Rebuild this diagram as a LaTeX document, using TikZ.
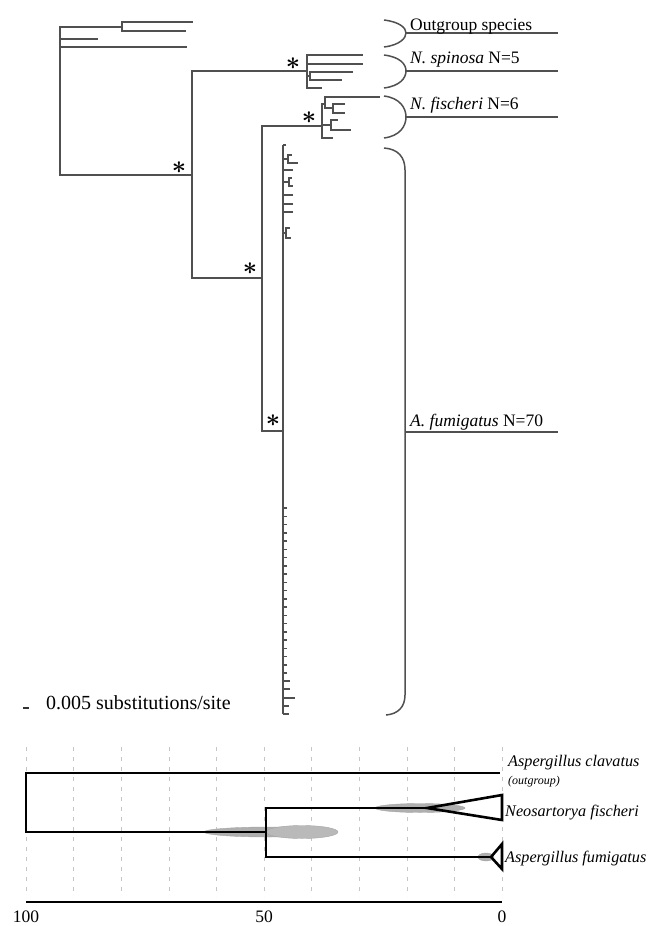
\documentclass[tikz,border=0pt]{standalone}
\usepackage{fontspec}
\setmainfont{Liberation Serif}
\usetikzlibrary{positioning,calc}
\definecolor{treegray}{RGB}{80,80,80}
\definecolor{hpdgray}{RGB}{175,175,175}

\begin{document}
\begin{tikzpicture}[x=1pt,y=-1pt, every node/.style={font=\fontsize{17.5}{19}\selectfont,inner sep=0pt}, br/.style={draw=treegray,line width=1.5pt}, brk/.style={draw=treegray,line width=1.5pt}, star/.style={font=\fontsize{36}{36}\selectfont\boldmath}, tl/.style={draw=black,line width=2.6pt,line join=miter}, grid/.style={draw=gray!45,line width=0.6pt,dash pattern=on 4pt off 6pt}, hpd/.style={fill=hpdgray,draw=gray!70,line width=0.4pt}, blab/.style={anchor=base west,font=\fontsize{16.2}{17}\selectfont\itshape}]
\useasboundingbox (0,0) rectangle (653,926);

% upper tree: internal nodes
\coordinate (r) at (60,101);
\coordinate (og) at (122,27);
\coordinate (n1) at (192,175);
\coordinate (sp) at (307,71);
\coordinate (sp2) at (310,76);
\coordinate (n2) at (262,278);
\coordinate (fi) at (322,126);
\coordinate (fa) at (325,104);
\coordinate (fb) at (333,108);
\coordinate (fc) at (331,125);
\coordinate (fu) at (283,431);
\coordinate (fut) at (283,145);
\coordinate (fub) at (283,714);
\coordinate (fA) at (288,159);
\coordinate (fB) at (289,182);
\coordinate (fC) at (286,233);

% outgroup
\coordinate (o1) at (193,22); \coordinate (o2) at (186,31);
\coordinate (o3) at (98,39); \coordinate (o4) at (187,47);
\draw[br] (r) |- (og); \draw[br] (og) |- (o1); \draw[br] (og) |- (o2);
\draw[br] (r) |- (o3); \draw[br] (r) |- (o4);
\draw[br] (r) |- (n1);
\draw[br] (n1) |- (sp); \draw[br] (n1) |- (n2);
\node[star] at (179,168) {$\ast$};
\node[star] at (293,64) {$\ast$};
\node[star] at (250,269) {$\ast$};

% N. spinosa
\foreach \y/\x [count=\i] in {55/363,64/363,88/322} {
  \coordinate (spt\i) at (\x,\y); \draw[br] (sp) |- (spt\i); }
\draw[br] (sp) |- (sp2);
\foreach \y/\x [count=\i] in {72/353,80/342} {
  \coordinate (sqt\i) at (\x,\y); \draw[br] (sp2) |- (sqt\i); }

% N. fischeri
\draw[br] (n2) |- (fi);
\node[star] at (309,118) {$\ast$};
\draw[br] (fi) |- (fa); \draw[br] (fa) |- (fb); \draw[br] (fi) |- (fc);
\coordinate (fat) at (380,97); \draw[br] (fa) |- (fat);
\foreach \y/\x [count=\i] in {104/345,113/345} {
  \coordinate (fbt\i) at (\x,\y); \draw[br] (fb) |- (fbt\i); }
\foreach \y/\x [count=\i] in {120/338,130/351} {
  \coordinate (fct\i) at (\x,\y); \draw[br] (fc) |- (fct\i); }
\coordinate (fit) at (333,138); \draw[br] (fi) |- (fit);

% A. fumigatus
\draw[br] (n2) |- (fu);
\node[star] at (273,421) {$\ast$};
\draw[br] (fut) -- (fub);
\foreach \y/\x [count=\i] in {145/286,170/293,195/293,204/293,212/293,681/290,689/290,698/295,706/289,714/289} {
  \coordinate (fut\i) at (\x,\y); \draw[br] (fut\i) -- (fut\i -| fut); }
\foreach \k in {0,...,20} {
  \coordinate (tk\k) at (287,508+8.25*\k); \draw[br] (tk\k) -- (tk\k -| fut); }
\draw[br] (fA -| fut) -- (fA); \draw[br] (fB -| fut) -- (fB); \draw[br] (fC -| fut) -- (fC);
\foreach \y/\x [count=\i] in {155/292,163/298} {
  \coordinate (fAt\i) at (\x,\y); \draw[br] (fA) |- (fAt\i); }
\foreach \y/\x [count=\i] in {178/292,186/293} {
  \coordinate (fBt\i) at (\x,\y); \draw[br] (fB) |- (fBt\i); }
\foreach \y/\x [count=\i] in {228/290,238/291} {
  \coordinate (fCt\i) at (\x,\y); \draw[br] (fC) |- (fCt\i); }

% brackets and clade labels
\draw[brk] (384,20) .. controls (400,22) and (406,28) .. (406,33) .. controls (406,38) and (400,45) .. (384,47);
\draw[brk] (384,55) .. controls (400,57) and (406,64) .. (406,71) .. controls (406,78) and (400,86) .. (384,88);
\draw[brk] (384,96) .. controls (400,98) and (406,108) .. (406,117) .. controls (406,126) and (400,136) .. (384,138);
\draw[brk] (384,148) .. controls (398,149) and (405,157) .. (405,170) -- (405,695) .. controls (405,707) and (398,714) .. (386,715);
\coordinate (bog) at (406,33); \coordinate (bsp) at (406,71);
\coordinate (bfi) at (406,117); \coordinate (bfu) at (405,432);
\draw[brk] (bog) -- ++(152,0); \draw[brk] (bsp) -- ++(152,0);
\draw[brk] (bfi) -- ++(152,0); \draw[brk] (bfu) -- ++(153,0);
\node[anchor=base west] (log) at (410,30) {Outgroup species};
\node[anchor=base west] (lsp) at (410,63) {\textit{N. spinosa} N=5};
\node[anchor=base west] (lfi) at (410,109) {\textit{N. fischeri} N=6};
\node[anchor=base west] (lfu) at (410,426) {\textit{A. fumigatus} N=70};

% scale bar
\coordinate (sb1) at (23,708); \coordinate (sb2) at (29,708);
\draw[br,draw=black!80] (sb1) -- (sb2);
\node[anchor=base west,font=\fontsize{20}{22}\selectfont] (lsb) at (46,709) {0.005 substitutions/site};

% lower chronogram
\foreach \k in {0,...,10} \draw[grid] (26+47.6*\k,747) -- (26+47.6*\k,897);
\fill[hpd] (268,832) ellipse (64 and 5);
\fill[hpd,fill=gray!55] (302,832) ellipse (36 and 6.5);
\fill[hpd] (420,808) ellipse (45 and 4.5);
\fill[hpd] (486,857) ellipse (8 and 4);
\coordinate (bR) at (26,802);
\coordinate (bN) at (266,832);
\coordinate (clav) at (500,773);
\coordinate (neo) at (427,808);
\coordinate (fum) at (491,857);
\draw[tl] (bR) |- (clav);
\draw[tl] (bR) |- (bN);
\draw[tl] (bN) |- (neo);
\draw[tl] (bN) |- (fum);
\draw[tl] (neo) -- (502,795) -- (502,820) -- cycle;
\draw[tl] (fum) -- (502,844) -- (502,869) -- cycle;
\node[blab] (lcl) at (508,766) {Aspergillus clavatus};
\node[blab,font=\fontsize{12}{13}\selectfont\itshape] (lout) at (508,784) {(outgroup)};
\node[blab] (lneo) at (505,816) {Neosartorya fischeri};
\node[blab] (lfum) at (505,862) {Aspergillus fumigatus};

% time axis
\coordinate (ax0) at (26,902); \coordinate (ax1) at (502,902);
\draw[black,line width=1.8pt] (ax0) -- (ax1);
\node[anchor=base] at (26,922) {100};
\node[anchor=base] at (264,922) {50};
\node[anchor=base] at (502,922) {0};
\end{tikzpicture}
\end{document}
